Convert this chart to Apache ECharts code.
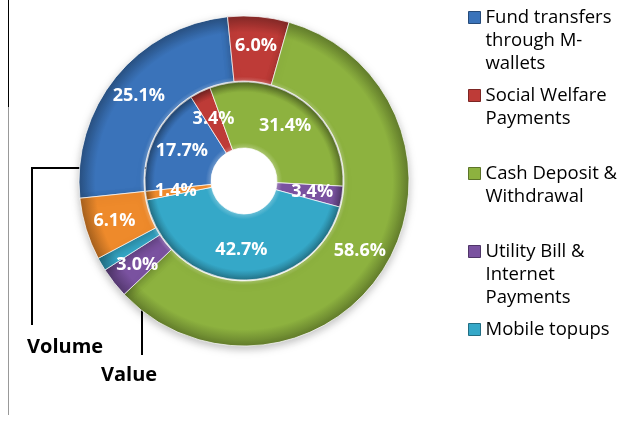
<!DOCTYPE html>
<html>
<head>
<meta charset="utf-8">
<script src="https://cdn.jsdelivr.net/npm/echarts@6/dist/echarts.min.js"></script>
<style>
  html, body { margin: 0; padding: 0; background: #fff; }
  #chart { width: 634px; height: 421px; }
</style>
</head>
<body>
<div id="chart"></div>
<script>
// categories, in the order the slices run clockwise
var categories = [
    'Fund transfers through M-wallets',
    'Social Welfare Payments',
    'Cash Deposit & Withdrawal',
    'Utility Bill & Internet Payments',
    'Mobile topups',
    'Others'
];
// legend text as it wraps in the picture
var legendLines = [
    ['Fund transfers', 'through M-', 'wallets'],
    ['Social Welfare', 'Payments', ' '],
    ['Cash Deposit &', 'Withdrawal', ' '],
    ['Utility Bill &', 'Internet', 'Payments'],
    ['Mobile topups', ' ', ' ']
];
// inner ring = volume, outer ring = value (share in %)
var volumeShare = [17.7, 3.4, 31.4, 3.4, 42.7, 1.4];
var valueShare = [25.1, 6.0, 58.6, 3.0, 1.3, 6.1];

var colors = ['#3A73BA', '#BE3B37', '#8DB23F', '#7A52A0', '#35A8C8', '#EE8A2B'];

var cx = 244, cy = 181, rOut = 165, rMid = 99, rHole = 33;

function shade(hex, k) {
    var n = parseInt(hex.slice(1), 16);
    var r = n >> 16, g = (n >> 8) & 255, b = n & 255;
    function f(c) {
        return Math.max(0, Math.min(255, Math.round(k > 0 ? c + (255 - c) * k : c * (1 + k))));
    }
    return 'rgb(' + f(r) + ',' + f(g) + ',' + f(b) + ')';
}

// bevel-ish radial fill for a ring between r0 and r1
function ringFill(color, r0, r1) {
    var a = r0 / r1;
    return {
        type: 'radial', x: cx, y: cy, r: r1, global: true,
        colorStops: [
            { offset: 0, color: shade(color, 0.25) },
            { offset: a, color: shade(color, 0.25) },
            { offset: a + (1 - a) * 0.08, color: color },
            { offset: 0.9, color: color },
            { offset: 1, color: shade(color, -0.3) }
        ]
    };
}

function ringData(values, r0, r1) {
    return values.map(function (v, i) {
        return {
            name: categories[i],
            value: v,
            itemStyle: { color: ringFill(colors[i], r0, r1) }
        };
    });
}

var labelStyle = {
    show: true,
    position: 'inside',
    color: '#fff',
    fontFamily: 'Open Sans',
    fontWeight: 'bold',
    fontSize: 18,
    formatter: function (p) { return p.value.toFixed(1) + '%'; }
};

var chart = echarts.init(document.getElementById('chart'), null, { renderer: 'canvas' });

chart.setOption({
    animation: false,
    legend: {
        orient: 'vertical',
        left: 468,
        top: -40,
        padding: 0,
        itemGap: -37,
        itemWidth: 12,
        itemHeight: 12,
        icon: 'rect',
        selectedMode: false,
        data: categories.slice(0, 5).map(function (c, i) {
            return { name: c, itemStyle: { color: colors[i], borderColor: shade(colors[i], -0.35), borderWidth: 1 } };
        }),
        // two blank lines in front so the first real line sits level with the icon
        formatter: function (name) {
            return [' ', ' '].concat(legendLines[categories.indexOf(name)]).join('\n');
        },
        textStyle: {
            fontFamily: 'Open Sans',
            fontSize: 18.5,
            color: '#000',
            lineHeight: 23
        }
    },
    series: [
        {
            name: 'Volume',
            type: 'pie',
            center: [cx, cy],
            radius: [rHole, rMid],
            startAngle: 186,
            clockwise: true,
            silent: true,
            itemStyle: { borderColor: 'rgba(255,255,255,0.7)', borderWidth: 1 },
            label: labelStyle,
            labelLine: { show: false },
            data: ringData(volumeShare, rHole, rMid)
        },
        {
            name: 'Value',
            type: 'pie',
            center: [cx, cy],
            radius: [rMid + 1, rOut],
            startAngle: 186,
            clockwise: true,
            silent: true,
            itemStyle: {
                borderColor: 'rgba(255,255,255,0.7)',
                borderWidth: 1,
                shadowBlur: 8,
                shadowOffsetY: 3,
                shadowColor: 'rgba(0,0,0,0.25)'
            },
            label: labelStyle,
            labelLine: { show: false },
            data: ringData(valueShare, rMid, rOut)
        }
    ],
    graphic: [
        // frame edge on the left
        { type: 'line', shape: { x1: 8.5, y1: 0, x2: 8.5, y2: 107 }, style: { stroke: '#000', lineWidth: 1 } },
        { type: 'line', shape: { x1: 8.5, y1: 107, x2: 8.5, y2: 415 }, style: { stroke: '#999', lineWidth: 1 } },
        // callouts
        { type: 'polyline', shape: { points: [[190, 168], [32, 168], [32, 325]] }, style: { stroke: '#000', lineWidth: 2, fill: null } },
        { type: 'polyline', shape: { points: [[177, 287], [142, 287], [142, 355]] }, style: { stroke: '#000', lineWidth: 2, fill: null } },
        { type: 'text', x: 27, y: 347, style: { text: 'Volume', fontFamily: 'Open Sans', fontWeight: 'bold', fontSize: 20, fill: '#000', verticalAlign: 'middle' } },
        { type: 'text', x: 101, y: 375, style: { text: 'Value', fontFamily: 'Open Sans', fontWeight: 'bold', fontSize: 20, fill: '#000', verticalAlign: 'middle' } }
    ]
});
</script>
</body>
</html>
